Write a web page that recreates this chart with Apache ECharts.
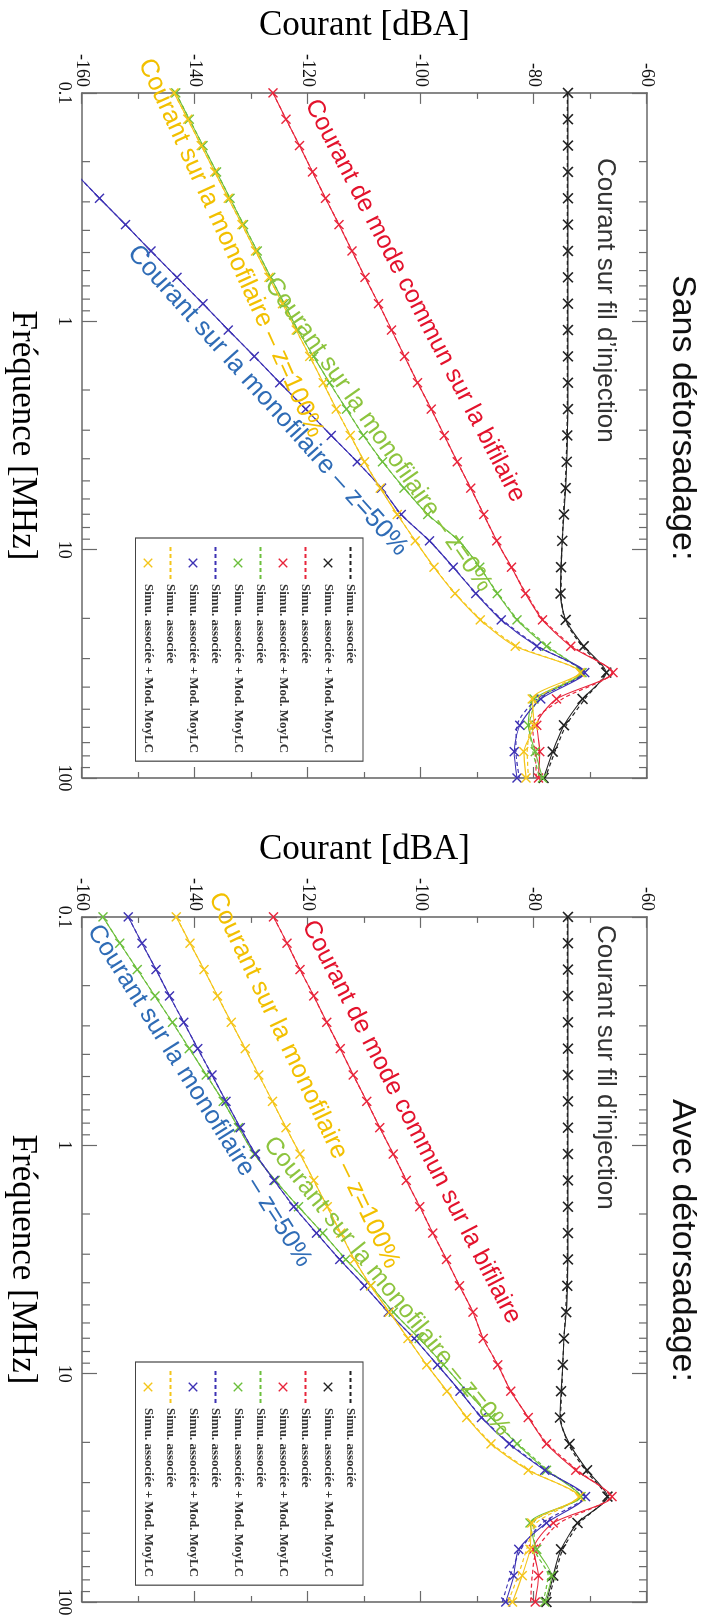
<!DOCTYPE html>
<html><head><meta charset="utf-8">
<script src="https://cdn.jsdelivr.net/npm/echarts@6/dist/echarts.min.js"></script>
<style>
html,body{margin:0;padding:0;background:#fff;width:720px;height:1617px;overflow:hidden;position:relative}
.chart{position:absolute;left:0;top:0;width:800px;height:720px;transform-origin:0 0}
</style></head><body>
<div id="c1" class="chart" style="transform:translate(720px,0px) rotate(90deg)"></div>
<div id="c2" class="chart" style="transform:translate(720px,824px) rotate(90deg)"></div>
<script>
// ---- data ----
const FREQ = [0.1,0.1304,0.1701,0.2219,0.2894,0.3775,0.4924,0.6423,0.8377,1.0926,1.4251,1.8588,2.4245,3.1623,4.1246,5.3798,7.017,9.1525,11.938,15.571,20.309,26.489,34.551,45.065,58.78,76.667,100];
const MINOR_TICKS = [0.2,0.3,0.4,0.5,0.6,0.7,0.8,0.9,2,3,4,5,6,7,8,9,20,30,40,50,60,70,80,90];
const Y_TICK_MIN = -160, Y_TICK_MAX = -60, Y_TICK_STEP = 20;
const X_MIN = 0.1, X_MAX = 100;
const LEGEND_LABELS = ['Simu. associée', 'Simu. associée + Mod. MoyLC'];

// Sans détorsadage
const S1_BLACK_SIMU = [-74.1,-74.1,-74.1,-74.1,-74.1,-74.1,-74.1,-74.1,-74.1,-74.1,-74.1,-74.1,-74.1,-74.2,-74.3,-74.5,-74.8,-75.0,-75.2,-75.2,-74.5,-71.5,-67.5,-71.0,-74.3,-76.3,-78.0];
const S1_BLACK_MOD  = [-74.0,-74.0,-74.0,-74.0,-74.0,-74.0,-74.0,-74.0,-74.0,-74.0,-74.0,-74.0,-74.0,-74.1,-74.2,-74.4,-74.7,-75.0,-75.2,-75.3,-74.4,-71.2,-67.2,-71.4,-74.7,-76.7,-78.3];
const S1_RED_SIMU   = [-126.2,-123.9,-121.5,-119.2,-116.9,-114.5,-112.2,-109.9,-107.5,-105.2,-102.9,-100.6,-98.2,-95.9,-93.6,-91.2,-88.9,-86.6,-84.0,-81.4,-78.3,-73.2,-66.2,-75.0,-80.3,-79.8,-79.6];
const S1_RED_MOD    = [-126.2,-123.9,-121.5,-119.2,-116.9,-114.5,-112.2,-109.9,-107.5,-105.2,-102.9,-100.6,-98.2,-95.9,-93.6,-91.2,-88.9,-86.6,-84.0,-81.5,-78.5,-73.5,-66.0,-76.0,-79.5,-79.0,-79.2];
const S1_GREEN_SIMU = [-143.4,-141.0,-138.6,-136.2,-133.8,-131.4,-129.0,-126.6,-124.2,-121.8,-119.0,-116.2,-113.2,-110.2,-106.8,-103.0,-98.8,-93.3,-89.6,-86.4,-82.8,-77.5,-71.8,-79.2,-80.8,-80.2,-79.0];
const S1_GREEN_MOD  = [-143.4,-141.0,-138.6,-136.2,-133.8,-131.4,-129.0,-126.6,-124.2,-121.8,-119.0,-116.2,-113.2,-110.2,-106.8,-103.0,-98.8,-93.3,-89.6,-86.5,-83.0,-77.8,-71.5,-80.0,-81.0,-79.8,-78.5];
const S1_BLUE_SIMU  = [-175.1,-170.5,-166.0,-161.4,-156.9,-152.3,-147.8,-143.2,-138.6,-134.1,-129.5,-125.0,-120.4,-115.9,-111.3,-107.0,-103.5,-98.5,-94.3,-90.2,-85.6,-79.3,-71.3,-79.5,-83.0,-83.2,-82.6];
const S1_BLUE_MOD   = [-175.1,-170.5,-166.0,-161.4,-156.9,-152.3,-147.8,-143.2,-138.6,-134.1,-129.5,-125.0,-120.4,-115.9,-111.3,-107.0,-103.5,-98.5,-94.3,-90.3,-85.8,-79.5,-71.0,-78.8,-82.5,-83.5,-83.0];
const S1_YELLOW_SIMU= [-143.7,-141.3,-138.9,-136.5,-134.1,-131.7,-129.3,-126.9,-124.5,-122.1,-119.7,-117.3,-115.0,-112.5,-110.0,-107.2,-104.2,-101.0,-97.7,-93.9,-89.3,-83.0,-72.0,-79.6,-80.6,-81.2,-81.0];
const S1_YELLOW_MOD = [-143.7,-141.3,-138.9,-136.5,-134.1,-131.7,-129.3,-126.9,-124.5,-122.1,-119.7,-117.3,-115.0,-112.5,-110.0,-107.2,-104.2,-101.0,-97.7,-94.0,-89.5,-83.3,-71.8,-80.3,-80.0,-81.8,-81.4];

// Avec détorsadage
const S2_BLACK_SIMU = [-74.1,-74.1,-74.1,-74.1,-74.1,-74.1,-74.1,-74.1,-74.1,-74.1,-74.1,-74.1,-74.1,-74.1,-74.2,-74.4,-74.7,-74.9,-75.1,-75.3,-73.9,-70.9,-67.3,-71.9,-74.9,-76.3,-77.5];
const S2_BLACK_MOD  = [-74.0,-74.0,-74.0,-74.0,-74.0,-74.0,-74.0,-74.0,-74.0,-74.0,-74.0,-74.0,-74.0,-74.0,-74.1,-74.3,-74.7,-74.9,-75.2,-75.4,-73.7,-70.6,-67.0,-72.3,-75.2,-76.6,-77.8];
const S2_RED_SIMU   = [-126.1,-123.7,-121.4,-119.0,-116.7,-114.3,-112.0,-109.6,-107.3,-104.9,-102.6,-100.2,-97.9,-95.5,-93.2,-90.8,-89.0,-86.4,-84.1,-81.0,-77.6,-72.3,-66.5,-75.5,-79.5,-80.3,-80.6];
const S2_RED_MOD    = [-126.1,-123.7,-121.4,-119.0,-116.7,-114.3,-112.0,-109.6,-107.3,-104.9,-102.6,-100.2,-97.9,-95.5,-93.2,-90.8,-89.0,-86.4,-84.1,-81.0,-77.8,-72.6,-66.2,-76.6,-80.1,-79.2,-79.8];
const S2_GREEN_SIMU = [-156.3,-153.3,-150.2,-147.1,-144.0,-141.0,-138.0,-135.0,-132.3,-129.5,-125.8,-121.7,-117.4,-113.3,-108.9,-104.9,-100.3,-96.0,-91.9,-87.5,-82.8,-77.5,-71.9,-80.0,-79.9,-77.5,-78.4];
const S2_GREEN_MOD  = [-156.3,-153.3,-150.2,-147.1,-144.0,-141.0,-138.0,-135.0,-132.3,-129.5,-125.8,-121.7,-117.4,-113.3,-108.9,-104.9,-100.3,-96.0,-91.9,-87.6,-83.0,-77.8,-71.7,-80.7,-79.5,-76.9,-78.1];
const S2_BLUE_SIMU  = [-151.8,-149.4,-146.9,-144.5,-142.0,-139.5,-137.0,-134.5,-132.0,-129.3,-126.0,-122.5,-118.5,-114.4,-110.0,-105.8,-101.2,-97.1,-93.1,-89.2,-84.2,-78.0,-71.2,-78.5,-82.3,-84.2,-85.6];
const S2_BLUE_MOD   = [-151.8,-149.4,-146.9,-144.5,-142.0,-139.5,-137.0,-134.5,-132.0,-129.3,-126.0,-122.5,-118.5,-114.4,-110.0,-105.8,-101.2,-97.1,-93.1,-89.3,-84.4,-78.1,-70.9,-77.8,-82.7,-83.6,-85.0];
const S2_YELLOW_SIMU= [-143.3,-140.9,-138.4,-136.0,-133.6,-131.1,-128.7,-126.3,-123.9,-121.4,-119.0,-116.6,-114.2,-111.8,-108.9,-105.6,-102.3,-99.0,-95.4,-91.8,-87.4,-80.8,-72.3,-79.6,-81.3,-82.8,-84.6];
const S2_YELLOW_MOD = [-143.3,-140.9,-138.4,-136.0,-133.6,-131.1,-128.7,-126.3,-123.9,-121.4,-119.0,-116.6,-114.2,-111.8,-108.9,-105.6,-102.3,-99.0,-95.4,-91.9,-87.6,-81.0,-72.0,-80.4,-80.7,-82.1,-83.8];

const TITLES = ['Sans détorsadage:', 'Avec détorsadage:'];
const AXIS_NAMES = {x: 'Fréquence [MHz]', y: 'Courant [dBA]'};
const CURVE_LABELS = {
  black: 'Courant sur fil d\u2019injection',
  red: 'Courant de mode commun sur la bifilaire',
  green: 'Courant sur la monofilaire \u2013 z=0%',
  blue: 'Courant sur la monofilaire \u2013 z=50%',
  yellow: 'Courant sur la monofilaire \u2013 z=100%'
};

// ---- styles ----
const COLORS = {black:'#222222', red:'#e8253b', green:'#6cbf3c', blue:'#3d32b4', yellow:'#f4c51a'};
const LABEL_COLORS = {black:'#333333', red:'#e3122c', green:'#8dc43e', blue:'#2f6cb6', yellow:'#f2c000'};
const ORDER = ['black','red','green','blue','yellow'];
const X_PATH = 'path://M0,2L2,0L10,8L18,0L20,2L12,10L20,18L18,20L10,12L2,20L0,18L8,10Z';
const AXIS_COLOR = '#6a6a6a';

function buildOption(cfg) {
  const series = [];
  const legendData = [];
  ORDER.forEach((c, ci) => {
    const zw = '\u200b'.repeat(ci);
    const nSimu = LEGEND_LABELS[0] + zw;
    const nMod = LEGEND_LABELS[1] + zw;
    series.push({
      name: nSimu, type: 'line', xAxisIndex: 0, yAxisIndex: 0,
      data: FREQ.map((f, i) => [f, cfg.simu[c][i]]),
      symbol: 'none', smooth: 0.25,
      lineStyle: {color: COLORS[c], width: 1.2, type: [4, 3]},
      itemStyle: {color: COLORS[c]},
      z: 2 + ci * 2
    });
    series.push({
      name: nMod, type: 'line', xAxisIndex: 0, yAxisIndex: 0,
      data: FREQ.map((f, i) => [f, cfg.mod[c][i]]),
      symbol: X_PATH, symbolSize: c === 'black' ? 11 : 10, smooth: 0.25,
      lineStyle: {color: COLORS[c], width: 1.1},
      itemStyle: {color: COLORS[c]},
      z: 3 + ci * 2
    });
    legendData.push({name: nSimu, itemStyle: {opacity: 0}});
    legendData.push({name: nMod, lineStyle: {opacity: 0}});
  });
  series.push({
    type: 'custom', xAxisIndex: 0, yAxisIndex: 0, silent: true, clip: false, z: 20,
    data: MINOR_TICKS.map(f => [f, Y_TICK_MIN]),
    renderItem: (params, api) => {
      const f = api.value(0);
      const b = api.coord([f, Y_TICK_MIN]);
      const t = api.coord([f, Y_TICK_MAX]);
      const st = {stroke: AXIS_COLOR, lineWidth: 1.2};
      return {type: 'group', children: [
        {type: 'line', shape: {x1: b[0], y1: b[1], x2: b[0], y2: b[1] - 8}, style: st},
        {type: 'line', shape: {x1: t[0], y1: t[1], x2: t[0], y2: t[1] + 8}, style: st}
      ]};
    }
  });

  const serif = '"Liberation Serif", "DejaVu Serif", serif';
  const sans = '"Liberation Sans", Arial, sans-serif';
  const axisLine = {show: true, lineStyle: {color: AXIS_COLOR, width: 1.6}};
  const xBase = {type: 'log', logBase: 10, min: X_MIN, max: X_MAX, axisLine,
    splitLine: {show: false}};
  const yBase = {type: 'value', min: Y_TICK_MIN, max: Y_TICK_MAX, interval: Y_TICK_STEP, axisLine,
    splitLine: {show: false},
    axisTick: {inside: true, length: 11, lineStyle: {color: AXIS_COLOR, width: 1.2}},
    minorTick: {show: true, splitNumber: 2, length: 6, lineStyle: {color: AXIS_COLOR, width: 1.2}},
    minorSplitLine: {show: false}};

  const graphic = [
    {type: 'text', x: 275, y: 38, style: {text: cfg.title, font: '34px ' + sans, fill: '#111',
      textAlign: 'left', textVerticalAlign: 'middle', align: 'left', verticalAlign: 'middle'}, z: 100}
  ];
  ORDER.forEach(c => {
    const p = cfg.labels[c];
    graphic.push({type: 'text', x: p[0], y: p[1], rotation: p[2] * Math.PI / 180, z: 100,
      style: {text: CURVE_LABELS[c], font: p[3] + 'px ' + sans, fill: LABEL_COLORS[c],
        textAlign: 'left', textVerticalAlign: 'middle', align: 'left', verticalAlign: 'middle'}});
  });

  return {
    animation: false,
    backgroundColor: '#ffffff',
    grid: {left: 89, right: 22, top: 73, bottom: 79, containLabel: false},
    xAxis: [
      Object.assign({}, xBase, {position: 'bottom',
        name: AXIS_NAMES.x, nameLocation: 'middle', nameGap: 42,
        nameTextStyle: {fontFamily: serif, fontSize: 35, color: '#000'},
        axisTick: {inside: true, length: 15, lineStyle: {color: AXIS_COLOR, width: 1.2}},
        axisLabel: {show: true, margin: 9, fontFamily: serif, fontSize: 18, color: '#111'}}),
      Object.assign({}, xBase, {position: 'top',
        axisTick: {inside: true, length: 15, lineStyle: {color: AXIS_COLOR, width: 1.2}},
        axisLabel: {show: false}})
    ],
    yAxis: [
      Object.assign({}, yBase, {position: 'left',
        name: AXIS_NAMES.y, nameLocation: 'middle', nameGap: 48, nameRotate: 90,
        nameTextStyle: {fontFamily: serif, fontSize: 35, color: '#000'},
        axisLabel: {show: true, margin: 6, fontFamily: serif, fontSize: 18, color: '#111'}}),
      Object.assign({}, yBase, {position: 'right', axisLabel: {show: false}})
    ],
    legend: {
      data: legendData, orient: 'vertical', left: 538, top: 357,
      padding: [6, 8, 6, 8], itemGap: 9.5, itemWidth: 32, itemHeight: 12,
      backgroundColor: '#fff', borderColor: '#444', borderWidth: 1.2,
      selectedMode: false,
      formatter: n => n.replace(/\u200b/g, ''),
      textStyle: {fontFamily: serif, fontSize: 13, fontWeight: 'bold', color: '#333'}
    },
    graphic,
    series
  };
}

const chart1 = echarts.init(document.getElementById('c1'), null, {renderer: 'canvas'});
chart1.setOption(buildOption({
  title: TITLES[0],
  simu: {black: S1_BLACK_SIMU, red: S1_RED_SIMU, green: S1_GREEN_SIMU, blue: S1_BLUE_SIMU, yellow: S1_YELLOW_SIMU},
  mod: {black: S1_BLACK_MOD, red: S1_RED_MOD, green: S1_GREEN_MOD, blue: S1_BLUE_MOD, yellow: S1_YELLOW_MOD},
  labels: {black: [158, 115, 0, 26], red: [101, 409, 27.5, 25], green: [280, 450, 35, 25], blue: [249, 588, 41.8, 26], yellow: [60, 575, 24.5, 25.5]}
}));
const chart2 = echarts.init(document.getElementById('c2'), null, {renderer: 'canvas'});
chart2.setOption(buildOption({
  title: TITLES[1],
  simu: {black: S2_BLACK_SIMU, red: S2_RED_SIMU, green: S2_GREEN_SIMU, blue: S2_BLUE_SIMU, yellow: S2_YELLOW_SIMU},
  mod: {black: S2_BLACK_MOD, red: S2_RED_MOD, green: S2_GREEN_MOD, blue: S2_BLUE_MOD, yellow: S2_YELLOW_MOD},
  labels: {black: [101, 115, 0, 26], red: [98, 412, 27.3, 25], green: [316, 452, 39, 25], blue: [103, 627, 32.2, 25.5], yellow: [70, 505, 25.5, 25.5]}
}));
</script>
</body></html>
